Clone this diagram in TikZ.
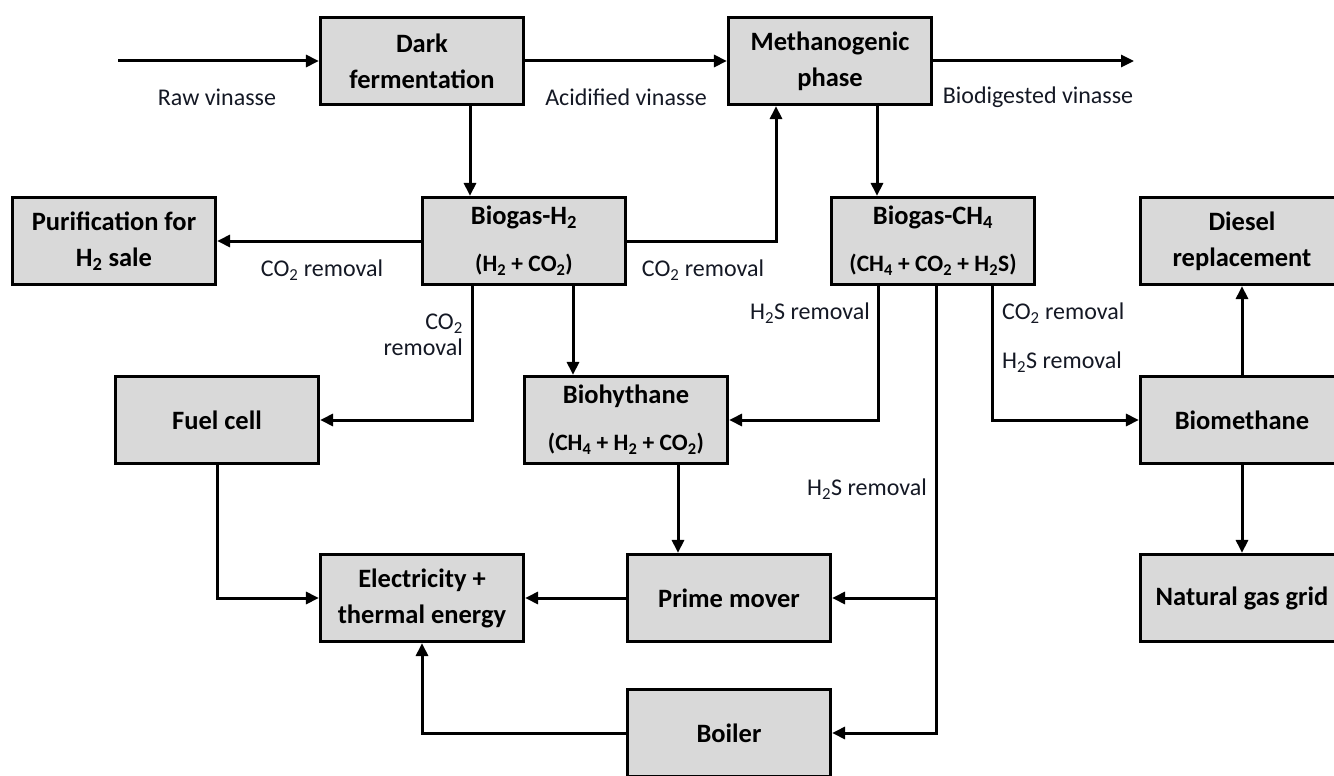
\documentclass[tikz,border=0pt]{standalone}
\usepackage{fontspec}
\setmainfont{Carlito}
\usetikzlibrary{arrows.meta,calc}
\definecolor{boxgray}{RGB}{217,217,217}
\definecolor{lblcol}{RGB}{20,24,36}
\tikzset{
  box/.style={draw=black, line width=3.2pt, fill=boxgray, minimum width=203pt, minimum height=87pt, inner sep=0pt, align=center, font=\fontsize{26.5}{36}\selectfont\bfseries},
  arr/.style={line width=3pt, -{Triangle[length=13pt,width=12pt]}},
  lbl/.style={font=\fontsize{24}{26}\selectfont, inner sep=0pt, text=lblcol},
}
\newcommand{\sbs}[1]{\textsubscript{#1}}
\newcommand{\frm}[1]{{\fontsize{23.5}{26}\selectfont #1}}
\begin{document}
\begin{tikzpicture}[x=1pt,y=-1pt]
\useasboundingbox (0,0) rectangle (1334,776);
\clip (0,0) rectangle (1334,776);
% boxes
\node[box] (dark) at (422,61) {Dark\\fermentation};
\node[box] (meth) at (830,61) {Methanogenic\\phase};
\node[box] (pur) at (114,241) {Purification for\\H\sbs{2} sale};
\node[box] (h2) at (524,241) {Biogas-H\sbs{2}\\[11pt]\frm{(H\sbs{2} + CO\sbs{2})}};
\node[box] (ch4) at (933,241) {Biogas-CH\sbs{4}\\[11pt]\frm{(CH\sbs{4} + CO\sbs{2} + H\sbs{2}S)}};
\node[box] (dies) at (1242,241) {Diesel\\replacement};
\node[box] (fc) at (217,420) {Fuel cell};
\node[box] (bh) at (626,420) {Biohythane\\[11pt]\frm{(CH\sbs{4} + H\sbs{2} + CO\sbs{2})}};
\node[box] (bm) at (1242,420) {Biomethane};
\node[box] (el) at (422,598) {Electricity +\\thermal energy};
\node[box] (pm) at (729,598) {Prime mover};
\node[box] (ng) at (1242,598) {Natural gas grid};
\node[box] (bo) at (729,733) {Boiler};
% labels
\node[lbl] (l1) at (217,97) {Raw vinasse};
\node[lbl] (l2) at (626,97) {Acidified vinasse};
\node[lbl] (l3) at (1038,97) {Biodigested vinasse};
\node[lbl] (l4) at (322,270) {CO\sbs{2} removal};
\node[lbl] (l5) at (703,270) {CO\sbs{2} removal};
\node[lbl, align=right, anchor=east] (l6) at (463,335) {CO\sbs{2}\\removal};
\node[lbl, anchor=east] (l7) at (870,313) {H\sbs{2}S removal};
\node[lbl, anchor=east] (l8) at (927,489) {H\sbs{2}S removal};
\node[lbl, anchor=west] (l9) at (1002,313) {CO\sbs{2} removal};
\node[lbl, anchor=west] (l10) at (1002,362) {H\sbs{2}S removal};
% coordinates
\coordinate (in) at (118,61);
\coordinate (out) at (1134,61);
\coordinate (darkb) at ([xshift=48pt]dark.south);
\coordinate (methb) at ([xshift=47pt]meth.south);
\coordinate (metha) at ([xshift=-54pt]meth.south);
\coordinate (h2a) at ([xshift=-52pt]h2.south);
\coordinate (h2b) at ([xshift=49pt]h2.south);
\coordinate (ch4a) at ([xshift=-55pt]ch4.south);
\coordinate (ch4b) at ([xshift=3pt]ch4.south);
\coordinate (ch4c) at ([xshift=59pt]ch4.south);
\coordinate (bhb) at ([xshift=52pt]bh.south);
\coordinate (jn) at (ch4b |- pm.east);
% connectors
\draw[arr] (in) -- (dark.west);
\draw[arr] (dark.east) -- (meth.west);
\draw[arr] (meth.east) -- (out);
\draw[arr] (darkb) -- (darkb |- h2.north);
\draw[arr] (methb) -- (methb |- ch4.north);
\draw[arr] (h2.west) -- (pur.east);
\draw[arr] (h2.east) -| (metha);
\draw[arr] (h2a) |- (fc.east);
\draw[arr] (h2b) -- (h2b |- bh.north);
\draw[arr] (ch4a) |- (bh.east);
\draw[arr] (ch4b) |- (bo.east);
\draw[arr] (jn) -- (pm.east);
\draw[arr] (ch4c) |- (bm.west);
\draw[arr] (bm.north) -- (dies.south);
\draw[arr] (bm.south) -- (ng.north);
\draw[arr] (bhb) -- (bhb |- pm.north);
\draw[arr] (pm.west) -- (el.east);
\draw[arr] (fc.south) |- (el.west);
\draw[arr] (bo.west) -| (el.south);
\end{tikzpicture}
\end{document}
